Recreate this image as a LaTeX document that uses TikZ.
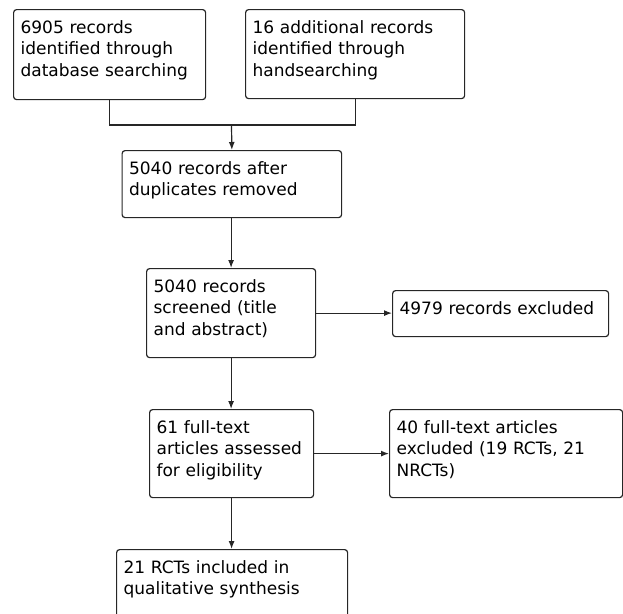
\documentclass[tikz,border=0pt]{standalone}
\usepackage{fontspec}
\setmainfont{DejaVu Sans}
\usetikzlibrary{arrows.meta}

\begin{document}
\begin{tikzpicture}[x=1pt, y=-1pt, every node/.append style={text=black, font=\fontsize{17}{21.3}\selectfont},
	box/.style={draw=black!85, line width=1.2pt, rounded corners=3pt, anchor=north west, align=left, inner xsep=7pt, inner ysep=0pt, text height=24pt},
	link/.style={draw=black!85, line width=1.2pt},
	arr/.style={link, -{Latex[length=8pt, width=6pt]}}]
	\clip (0,0) rectangle (623,613);

	\node[box, text width=178pt, text depth=66pt] (ident) at (13,9) {6905 records\\identified through\\database searching};
	\node[box, text width=205pt, text depth=65pt] (hand) at (245,9) {16 additional records\\identified through\\handsearching};
	\node[box, text width=205.5pt, text depth=43pt] (dedup) at (121.5,150) {5040 records after\\duplicates removed};
	\node[box, text width=155pt, text depth=65pt] (screen) at (146,268) {5040 records\\screened (title\\and abstract)};
	\node[box, text width=202pt, text depth=22pt] (excl) at (392,290) {4979 records excluded};
	\node[box, text width=150pt, text depth=64pt] (full) at (149,409) {61 full-text\\articles assessed\\for eligibility};
	\node[box, text width=219pt, text depth=64pt] (fullexcl) at (389,409) {40 full-text articles\\excluded (19 RCTs, 21\\NRCTs)};
	\node[box, text width=217pt, text depth=66pt] (incl) at (116,549) {21 RCTs included in\\qualitative synthesis};

	\coordinate (join) at (231.5,125);
	\draw[link] (ident.south) |- (join) -| (hand.south);
	\draw[arr] (join) -- (dedup.north);

	\draw[arr] (dedup.south -| screen.north) -- (screen.north);
	\draw[arr] (screen.east) -- (screen.east -| excl.west);
	\draw[arr] (screen.south) -- (screen.south |- full.north);
	\draw[arr] (full.east) -- (full.east -| fullexcl.west);
	\draw[arr] (full.south) -- (full.south |- incl.north);
\end{tikzpicture}
\end{document}
